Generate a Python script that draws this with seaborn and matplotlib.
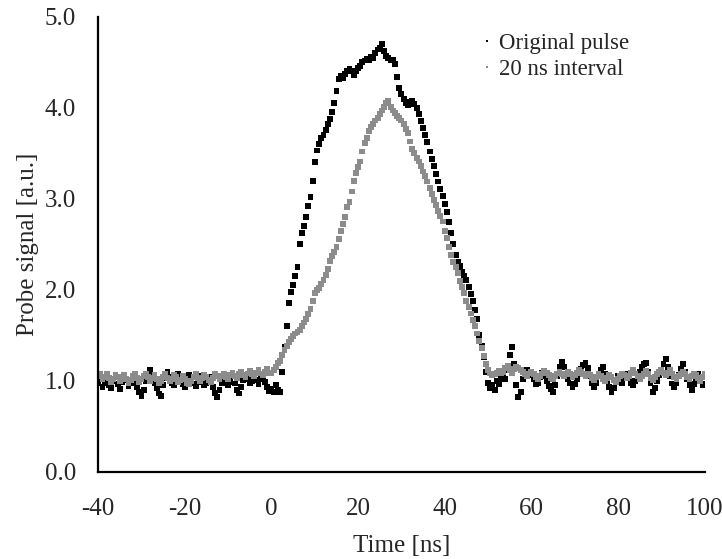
import numpy as np
import pandas as pd
import matplotlib
matplotlib.use("Agg")
import matplotlib.pyplot as plt
import seaborn as sns

# time axis (ns), 0.5 ns sampling from -40 to 100
time_ns = np.arange(-40, 100.01, 0.5)

original_pulse = [
    0.97, 1.02, 0.93, 0.98, 1.05, 0.95, 0.92, 1.00, 1.04, 0.96,   # -40
    0.91, 0.99, 1.06, 1.01, 0.94, 0.97, 1.03, 0.98, 0.93, 0.88,   # -35
    0.83, 0.90, 1.00, 1.08, 1.12, 1.06, 0.98, 0.92, 0.86, 0.83,   # -30
    0.95, 1.03, 1.10, 1.04, 0.97, 0.95, 1.01, 1.07, 1.02, 0.96,   # -25
    0.93, 0.99, 1.06, 1.03, 0.97, 0.94, 1.00, 1.05, 0.99, 0.95,   # -20
    0.98, 1.04, 1.00, 0.93, 0.87, 0.82, 0.90, 0.98, 1.04, 1.00,   # -15
    0.95, 0.99, 1.05, 0.97, 0.90, 0.86, 0.93, 1.01, 1.06, 1.02,   # -10
    0.97, 1.00, 1.04, 1.01, 0.96, 1.02, 1.05, 0.99, 0.93, 0.89,   # -5
    0.91, 0.88, 0.95, 0.90, 0.88, 1.10, 1.37, 1.60, 1.85, 1.98,   # 0
    2.05, 2.15, 2.25, 2.50, 2.62, 2.70, 2.80, 2.92, 3.02, 3.20,   # 5
    3.40, 3.53, 3.60, 3.67, 3.70, 3.76, 3.82, 3.88, 3.95, 4.05,   # 10
    4.18, 4.32, 4.35, 4.33, 4.37, 4.40, 4.43, 4.40, 4.36, 4.40,   # 15
    4.44, 4.46, 4.50, 4.52, 4.54, 4.52, 4.56, 4.55, 4.60, 4.64,   # 20
    4.66, 4.70, 4.62, 4.57, 4.55, 4.52, 4.53, 4.48, 4.34, 4.22,   # 25
    4.15, 4.10, 4.05, 4.03, 4.06, 4.07, 4.04, 4.00, 3.93, 3.85,   # 30
    3.78, 3.70, 3.62, 3.52, 3.44, 3.36, 3.27, 3.19, 3.11, 3.03,   # 35
    2.94, 2.85, 2.74, 2.62, 2.50, 2.38, 2.31, 2.26, 2.20, 2.15,   # 40
    2.11, 2.03, 1.95, 1.88, 1.78, 1.68, 1.50, 1.38, 1.26, 1.10,   # 45
    0.98, 0.92, 0.95, 0.90, 1.00, 0.96, 1.03, 1.08, 1.02, 1.12,   # 50
    1.28, 1.37, 1.18, 0.95, 0.82, 0.88, 1.02, 1.08, 1.12, 1.10,   # 55
    1.06, 1.02, 0.96, 0.98, 1.04, 1.09, 1.05, 1.00, 0.94, 0.91,   # 60
    0.88, 0.95, 1.05, 1.15, 1.21, 1.15, 1.08, 1.02, 0.97, 0.93,   # 65
    0.96, 1.02, 1.08, 1.13, 1.17, 1.20, 1.14, 1.05, 0.98, 0.93,   # 70
    0.98, 1.05, 1.12, 1.15, 1.08, 1.00, 0.93, 0.88, 0.92, 1.00,   # 75
    1.05, 1.02, 0.97, 1.03, 1.07, 1.04, 0.98, 0.95, 1.00, 1.06,   # 80
    1.10, 1.15, 1.18, 1.20, 1.10, 0.98, 0.88, 0.92, 1.00, 1.06,   # 85
    1.12, 1.18, 1.24, 1.15, 1.05, 0.97, 0.93, 0.98, 1.06, 1.13,   # 90
    1.18, 1.10, 1.02, 0.95, 0.90, 0.96, 1.03, 1.07, 1.01, 0.95,   # 95
    0.97,                                                         # 100
]

interval_20ns = [
    1.05, 1.08, 1.02, 1.04, 1.07, 1.03, 0.99, 1.02, 1.06, 1.04,   # -40
    1.00, 1.03, 1.06, 1.02, 0.98, 1.01, 1.05, 1.07, 1.03, 0.99,   # -35
    1.02, 1.05, 1.08, 1.04, 1.00, 1.03, 1.06, 1.02, 0.97, 1.00,   # -30
    1.04, 1.07, 1.03, 1.00, 1.02, 1.06, 1.04, 0.99, 1.01, 1.05,   # -25
    1.02, 0.98, 0.96, 1.00, 1.04, 1.07, 1.03, 1.00, 1.03, 1.06,   # -20
    1.04, 1.01, 0.99, 1.03, 1.07, 1.05, 1.02, 1.05, 1.08, 1.04,   # -15
    1.02, 1.06, 1.09, 1.05, 1.03, 1.07, 1.10, 1.06, 1.04, 1.08,   # -10
    1.11, 1.07, 1.05, 1.09, 1.12, 1.08, 1.06, 1.10, 1.13, 1.09,   # -5
    1.08, 1.12, 1.15, 1.20, 1.22, 1.28, 1.34, 1.38, 1.43, 1.46,   # 0
    1.49, 1.52, 1.54, 1.56, 1.60, 1.64, 1.68, 1.73, 1.79, 1.88,   # 5
    1.96, 2.00, 2.02, 2.06, 2.11, 2.16, 2.23, 2.32, 2.37, 2.42,   # 10
    2.47, 2.56, 2.65, 2.72, 2.80, 2.91, 2.96, 3.08, 3.20, 3.28,   # 15
    3.35, 3.41, 3.52, 3.61, 3.67, 3.74, 3.79, 3.82, 3.86, 3.89,   # 20
    3.93, 3.97, 4.01, 4.05, 4.07, 4.01, 3.97, 3.94, 3.91, 3.89,   # 25
    3.86, 3.82, 3.77, 3.72, 3.63, 3.55, 3.50, 3.45, 3.41, 3.36,   # 30
    3.30, 3.25, 3.19, 3.12, 3.05, 2.99, 2.93, 2.87, 2.81, 2.75,   # 35
    2.65, 2.57, 2.47, 2.38, 2.31, 2.25, 2.18, 2.10, 2.03, 1.96,   # 40
    1.88, 1.81, 1.74, 1.67, 1.60, 1.52, 1.44, 1.36, 1.27, 1.18,   # 45
    1.12, 1.08, 1.06, 1.07, 1.09, 1.11, 1.08, 1.10, 1.14, 1.16,   # 50
    1.12, 1.09, 1.13, 1.15, 1.14, 1.12, 1.10, 1.07, 1.05, 1.08,   # 55
    1.10, 1.07, 1.04, 1.02, 1.05, 1.08, 1.11, 1.09, 1.06, 1.03,   # 60
    1.02, 1.05, 1.08, 1.10, 1.07, 1.05, 1.08, 1.10, 1.07, 1.04,   # 65
    1.06, 1.09, 1.12, 1.10, 1.07, 1.05, 1.08, 1.06, 1.03, 1.01,   # 70
    1.04, 1.07, 1.05, 1.02, 1.00, 1.03, 1.06, 1.04, 1.01, 0.99,   # 75
    1.02, 1.05, 1.08, 1.06, 1.03, 1.05, 1.09, 1.12, 1.08, 1.05,   # 80
    1.02, 1.05, 1.08, 1.11, 1.07, 1.03, 1.01, 1.04, 1.07, 1.10,   # 85
    1.12, 1.09, 1.06, 1.09, 1.12, 1.08, 1.04, 1.02, 1.05, 1.08,   # 90
    1.10, 1.07, 1.04, 1.02, 1.05, 1.08, 1.06, 1.03, 1.00, 1.04,   # 95
    1.07,                                                         # 100
]

series_names = ["Original pulse", "20 ns interval"]
x_ticks = [-40, -20, 0, 20, 40, 60, 80, 100]
y_ticks = [0.0, 1.0, 2.0, 3.0, 4.0, 5.0]

df = pd.concat([
    pd.DataFrame({"t": time_ns, "v": original_pulse, "s": series_names[0]}),
    pd.DataFrame({"t": time_ns, "v": interval_20ns, "s": series_names[1]}),
])

sns.set_style("white")
plt.rcParams["font.family"] = ["Liberation Serif", "DejaVu Serif"]

fig = plt.figure(figsize=(7.22, 5.59), dpi=100)
ax = fig.add_axes([0.136, 0.156, 0.840, 0.814])

sns.scatterplot(data=df, x="t", y="v", hue="s", palette=["#000000", "#8c8c8c"],
                marker="s", s=18, linewidth=0, ax=ax, legend=True)

ax.set_xlim(-40, 100)
ax.set_ylim(0, 5)
ax.set_xticks(x_ticks)
ax.set_xticklabels([str(t) for t in x_ticks])
ax.set_yticks(y_ticks)
ax.set_yticklabels([f"{t:.1f}" for t in y_ticks])
ax.tick_params(direction="in", length=5, width=1.5, labelsize=18, color="black")
ax.tick_params(axis="x", pad=19)
ax.tick_params(axis="y", pad=16)
for side in ["top", "right"]:
    ax.spines[side].set_visible(False)
for side in ["left", "bottom"]:
    ax.spines[side].set_linewidth(1.6)
    ax.spines[side].set_color("black")

ax.set_xlabel("Time [ns]", fontsize=18, labelpad=11)
ax.set_ylabel("Probe signal [a.u.]", fontsize=18, labelpad=4)

leg = ax.legend(loc="upper left", bbox_to_anchor=(0.60, 1.0), frameon=False,
                fontsize=16.5, handletextpad=0.1, labelspacing=0.22,
                markerscale=0.5, borderaxespad=0.3, handlelength=0.8)

fig.savefig("out.png", dpi=100)
